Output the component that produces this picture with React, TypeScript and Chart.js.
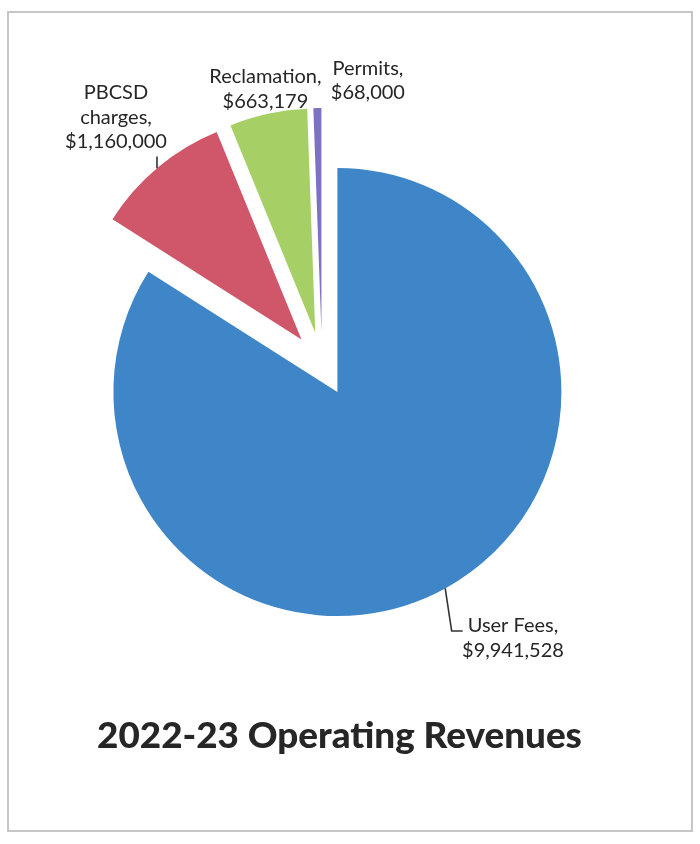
import React, { useEffect, useRef } from "react";
import { Chart, registerables } from "chart.js";

Chart.register(...registerables);

// ---- data ----
const categories = ["User Fees", "PBCSD charges", "Reclamation", "Permits"];
const values = [9941528, 1160000, 663179, 68000];
const labelNameLines = [["User Fees,"], ["PBCSD", "charges,"], ["Reclamation,"], ["Permits,"]];
const titleText = "2022-23 Operating Revenues";

// ---- style ----
const colors = ["#3f86c9", "#d0566a", "#a6cf66", "#7d72c2"];
const EXPLODE = 32; // every slice is pulled out of the centre by this many px
const RADIUS = 224;
const LABEL_FONT = "Lato";
const LABEL_SIZE = 20;
const LINE_H = 24.5;
const CAP = 14;
const TEXT_COLOR = "#262626";
// per-slice label placement (gap beyond slice edge along mid-angle, then nudge)
const labelLayout = [
  { gap: 66, dx: 36, dy: -9, leader: "elbow" },
  { gap: 66, dx: 0.5, dy: 0, leader: "vertical", lineDx: 41 },
  { gap: 27, dx: 3, dy: 1, leader: "none" },
  { gap: 27, dx: 51, dy: -1, leader: "none" },
];

const fmt = (v: number) => "$" + v.toLocaleString("en-US");

const explodePlugin = {
  id: "explodeSlices",
  afterUpdate(chart: any) {
    const arcs = chart.getDatasetMeta(0).data;
    arcs.forEach((arc: any) => {
      const mid = (arc.startAngle + arc.endAngle) / 2;
      arc.x += Math.cos(mid) * EXPLODE;
      arc.y += Math.sin(mid) * EXPLODE;
    });
  },
};

const labelPlugin = {
  id: "sliceLabels",
  afterDatasetsDraw(chart: any) {
    const ctx = chart.ctx as CanvasRenderingContext2D;
    const arcs = chart.getDatasetMeta(0).data;
    ctx.save();
    ctx.font = `${LABEL_SIZE}px ${LABEL_FONT}`;
    ctx.fillStyle = TEXT_COLOR;
    ctx.strokeStyle = "#333";
    ctx.lineWidth = 1.6;
    ctx.textAlign = "center";
    ctx.textBaseline = "alphabetic";
    arcs.forEach((arc: any, i: number) => {
      const p = arc.getProps(["x", "y", "startAngle", "endAngle", "outerRadius"], true);
      const mid = (p.startAngle + p.endAngle) / 2;
      const ax = p.x;
      const ay = p.y;
      const lay: any = labelLayout[i];
      const R = p.outerRadius + lay.gap;
      const cx = ax + Math.cos(mid) * R + lay.dx;
      const cy = ay + Math.sin(mid) * R + lay.dy;
      const lines = [...labelNameLines[i], fmt(values[i])];
      const n = lines.length;
      const baselines = lines.map((_, k) => cy + (k - (n - 1) / 2) * LINE_H + CAP / 2);
      lines.forEach((t, k) => ctx.fillText(t, cx, baselines[k]));
      const r = p.outerRadius;
      if (lay.leader === "vertical") {
        const lx = cx + lay.lineDx;
        const y1 = baselines[n - 1] + 8;
        const y2 = ay - Math.sqrt(Math.max(0, r * r - (lx - ax) * (lx - ax)));
        ctx.beginPath();
        ctx.moveTo(lx, y1);
        ctx.lineTo(lx, y2);
        ctx.stroke();
      } else if (lay.leader === "elbow") {
        const sx = ax + Math.cos(mid) * r;
        const sy = ay + Math.sin(mid) * r;
        const w1 = ctx.measureText(lines[0]).width;
        const left1 = cx - w1 / 2;
        const yy = baselines[0] - 1;
        ctx.beginPath();
        ctx.moveTo(sx, sy);
        ctx.lineTo(left1 - 16, yy);
        ctx.lineTo(left1 - 5, yy);
        ctx.stroke();
      }
    });
    ctx.restore();
  },
  afterDraw(chart: any) {
    const ctx = chart.ctx as CanvasRenderingContext2D;
    ctx.save();
    ctx.font = `900 40px ${LABEL_FONT}`;
    const w = ctx.measureText(titleText).width;
    const size = (40 * 485) / w;
    ctx.font = `900 ${size}px ${LABEL_FONT}`;
    ctx.fillStyle = TEXT_COLOR;
    ctx.textAlign = "center";
    ctx.textBaseline = "alphabetic";
    ctx.fillText(titleText, 339.5, 748);
    ctx.restore();
  },
};

export default function App() {
  const ref = useRef<HTMLCanvasElement | null>(null);
  useEffect(() => {
    if (!ref.current) return;
    const chart = new Chart(ref.current, {
      type: "pie",
      data: {
        labels: categories,
        datasets: [
          {
            data: values,
            backgroundColor: colors,
            borderWidth: 0,
            offset: 0,
          } as any,
        ],
      },
      options: {
        responsive: false,
        animation: false,
        events: [],
        radius: RADIUS,
        layout: { padding: { left: 22, right: 78, top: 64, bottom: 180 } },
        plugins: {
          legend: { display: false },
          title: { display: false },
          tooltip: { enabled: false },
        },
      } as any,
      plugins: [explodePlugin, labelPlugin],
    });
    return () => chart.destroy();
  }, []);
  return (
    <div style={{ position: "absolute", left: 0, top: 0, width: 700, height: 844, background: "#fff" }}>
      <div
        style={{
          position: "absolute",
          left: 7,
          top: 11,
          width: 686,
          height: 821,
          border: "2px solid #c6c6c6",
          boxSizing: "border-box",
        }}
      />
      <canvas ref={ref} width={700} height={844} style={{ position: "absolute", left: 0, top: 0, width: 700, height: 844 }} />
    </div>
  );
}
